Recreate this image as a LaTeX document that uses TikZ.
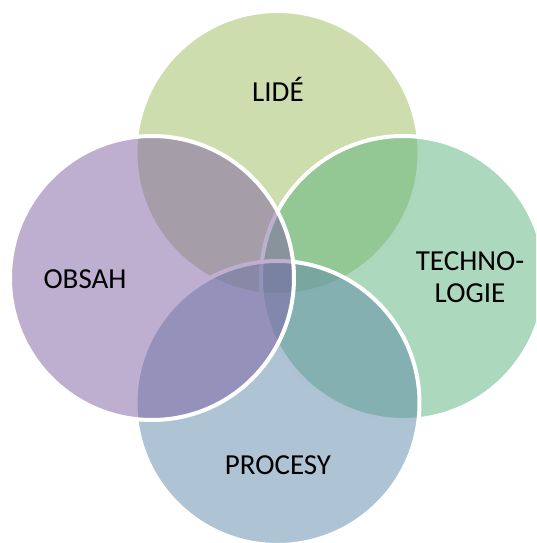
\documentclass[tikz,border=0pt]{standalone}
\usepackage{fontspec}
\setmainfont{Carlito}
\usepackage{tikz}
\usetikzlibrary{positioning}
\definecolor{lidegreen}{RGB}{157,187,93}
\definecolor{techgreen}{RGB}{89,177,123}
\definecolor{procblue}{RGB}{93,137,169}
\definecolor{obsahpurple}{RGB}{126,96,164}

\begin{document}
\begin{tikzpicture}[x=0.75pt, y=0.75pt,
        venn/.style={circle, draw=white, line width=3pt, inner sep=0pt,
                     minimum size=213pt, fill opacity=0.5},
        lbl/.style={font=\fontsize{21.75}{24}\selectfont, text=black, align=center}
      ]
        \clip (-277.5,-265) rectangle (258.5,278);
        \node[venn, fill=lidegreen]   (lide) at (0,125) {};
        \node[venn, fill=techgreen]   (tech) at (125.5,0) {};
        \node[venn, fill=procblue]    (proc) at (0,-125) {};
        \node[venn, fill=obsahpurple] (obsah) at (-125.5,0) {};
        \node[lbl, anchor=base] (lidetext) at (0.5,176.3) {LIDÉ};
        \node[lbl] (techtext) at (192.5,0.5) {TECHNO-\\LOGIE};
        \node[lbl, anchor=base] (proctext) at (0.5,-196) {PROCESY};
        \node[lbl, anchor=base] (obsahtext) at (-192.5,-10.3) {OBSAH};
      \end{tikzpicture}
\end{document}
